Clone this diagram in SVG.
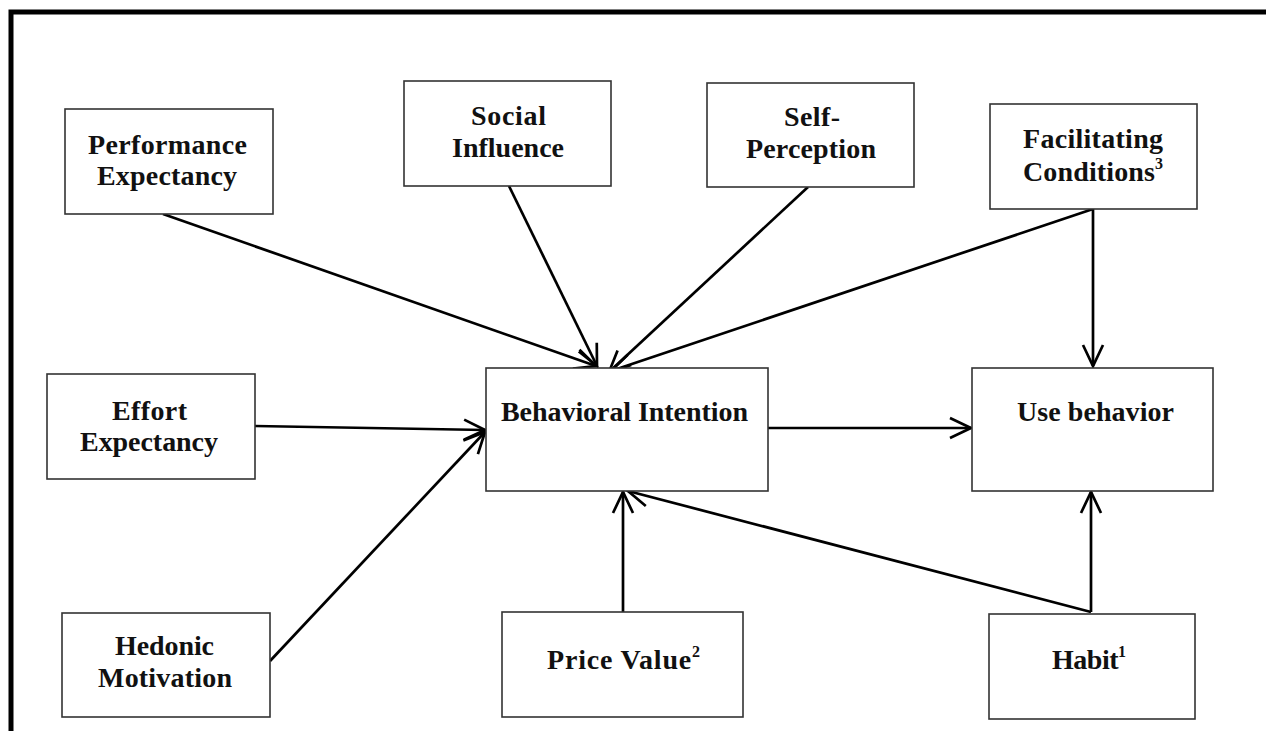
<svg xmlns="http://www.w3.org/2000/svg" width="1266" height="731" viewBox="0 0 1266 731">
<style>
.box{fill:#fff;stroke:#333;stroke-width:1.6}
.t{font-family:"Liberation Serif","Times New Roman",serif;font-weight:bold;font-size:28px;fill:#111}
.sup{font-size:16px}
.c{fill:none;stroke:#000;stroke-width:2.7}
</style>
<defs>
<marker id="arr" markerUnits="userSpaceOnUse" markerWidth="30" markerHeight="30" viewBox="-25 -15 30 30" refX="0" refY="0" orient="auto" overflow="visible">
<path d="M-21,-10 L0,0 L-21,10" fill="none" stroke="#000" stroke-width="2.7"/>
</marker>
</defs>
<rect width="1266" height="731" fill="#fff"/>
<path d="M11,740 L11,12 L1275,12" fill="none" stroke="#000" stroke-width="5"/>

<g id="connectors">
<line class="c" x1="163" y1="214" x2="596" y2="366" marker-end="url(#arr)"/>
<line class="c" x1="509" y1="186" x2="597" y2="366" marker-end="url(#arr)"/>
<line class="c" x1="808" y1="187" x2="609" y2="372" marker-end="url(#arr)"/>
<line class="c" x1="1093" y1="209" x2="611" y2="371" marker-end="url(#arr)"/>
<line class="c" x1="1093" y1="209" x2="1093" y2="366" marker-end="url(#arr)"/>
<line class="c" x1="255" y1="426" x2="485" y2="430" marker-end="url(#arr)"/>
<line class="c" x1="270" y1="661" x2="485" y2="432" marker-end="url(#arr)"/>
<line class="c" x1="768" y1="428" x2="971" y2="428" marker-end="url(#arr)"/>
<line class="c" x1="623" y1="612" x2="623" y2="492" marker-end="url(#arr)"/>
<line class="c" x1="1091" y1="612" x2="628" y2="491" marker-end="url(#arr)"/>
<line class="c" x1="1091" y1="612" x2="1091" y2="492" marker-end="url(#arr)"/>
</g>

<g id="performance-expectancy">
<rect class="box" x="65" y="109" width="208" height="105"/>
<text class="t" x="88" y="154" textLength="159" lengthAdjust="spacing">Performance</text>
<text class="t" x="97" y="185" textLength="140" lengthAdjust="spacing">Expectancy</text>
</g>
<g id="social-influence">
<rect class="box" x="404" y="81" width="207" height="105"/>
<text class="t" x="471" y="125" textLength="75" lengthAdjust="spacing">Social</text>
<text class="t" x="452" y="157" textLength="112" lengthAdjust="spacing">Influence</text>
</g>
<g id="self-perception">
<rect class="box" x="707" y="83" width="207" height="104"/>
<text class="t" x="784" y="126" textLength="56" lengthAdjust="spacing">Self-</text>
<text class="t" x="746" y="158" textLength="130" lengthAdjust="spacing">Perception</text>
</g>
<g id="facilitating-conditions">
<rect class="box" x="990" y="104" width="207" height="105"/>
<text class="t" x="1023" y="148" textLength="140" lengthAdjust="spacing">Facilitating</text>
<text class="t" x="1023" y="181" textLength="140" lengthAdjust="spacing">Conditions<tspan class="sup" dy="-12">3</tspan></text>
</g>
<g id="effort-expectancy">
<rect class="box" x="47" y="374" width="208" height="105"/>
<text class="t" x="112" y="420" textLength="75" lengthAdjust="spacing">Effort</text>
<text class="t" x="80" y="451" textLength="138" lengthAdjust="spacing">Expectancy</text>
</g>
<g id="behavioral-intention">
<rect class="box" x="486" y="368" width="282" height="123"/>
<text class="t" x="501" y="421" textLength="247" lengthAdjust="spacing">Behavioral Intention</text>
</g>
<g id="use-behavior">
<rect class="box" x="972" y="368" width="241" height="123"/>
<text class="t" x="1017" y="421" textLength="157" lengthAdjust="spacing">Use behavior</text>
</g>
<g id="hedonic-motivation">
<rect class="box" x="62" y="613" width="208" height="104"/>
<text class="t" x="115" y="655" textLength="99" lengthAdjust="spacing">Hedonic</text>
<text class="t" x="98" y="687" textLength="134" lengthAdjust="spacing">Motivation</text>
</g>
<g id="price-value">
<rect class="box" x="502" y="612" width="241" height="105"/>
<text class="t" x="547" y="669" textLength="153" lengthAdjust="spacing">Price Value<tspan class="sup" dy="-12">2</tspan></text>
</g>
<g id="habit">
<rect class="box" x="989" y="614" width="206" height="105"/>
<text class="t" x="1052" y="669" textLength="74" lengthAdjust="spacing">Habit<tspan class="sup" dy="-12">1</tspan></text>
</g>
</svg>
